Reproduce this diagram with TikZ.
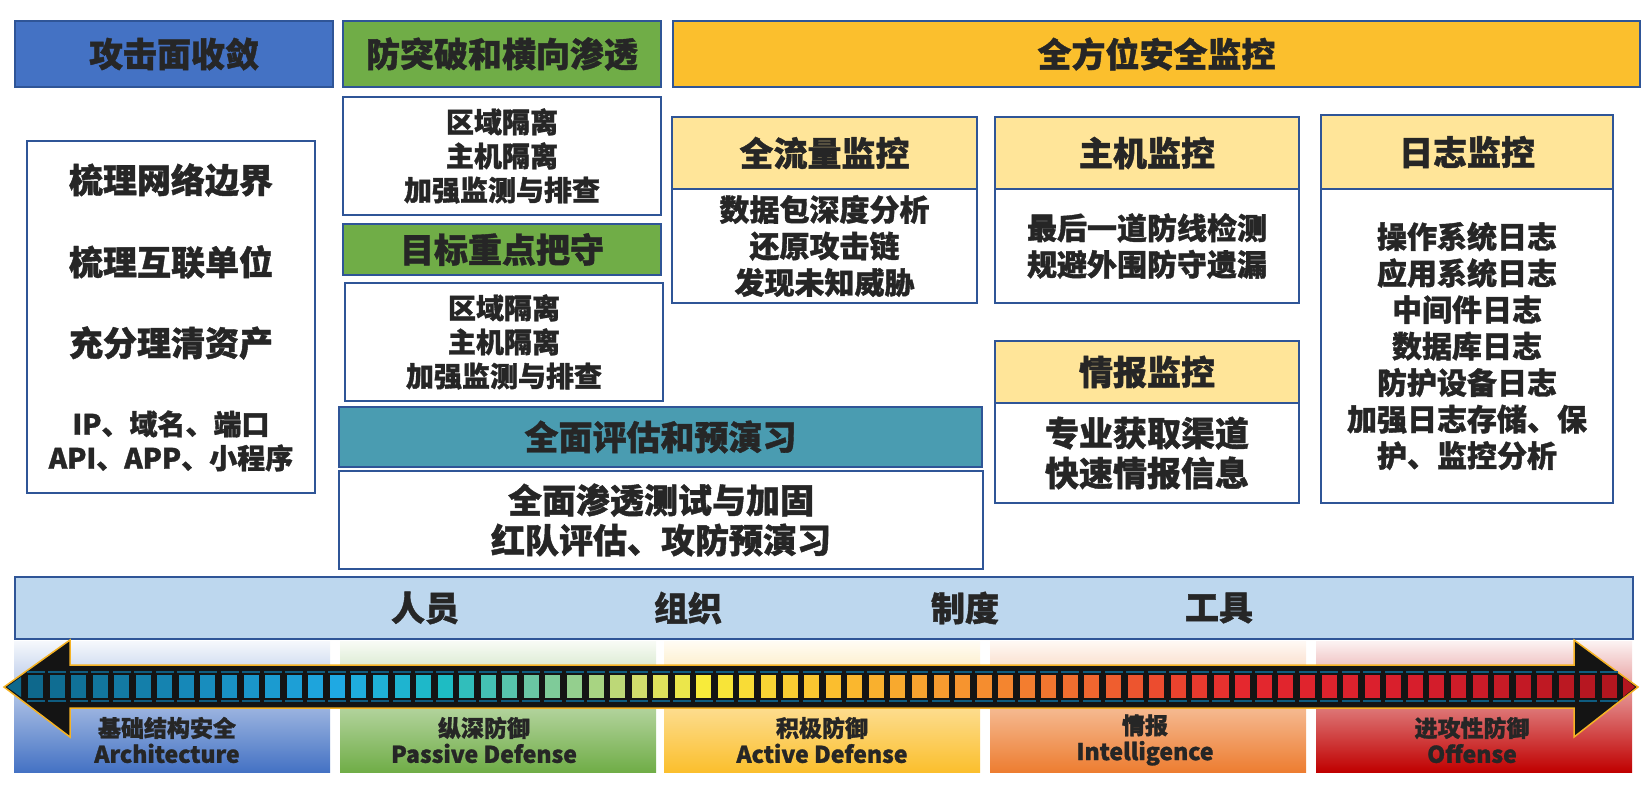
\documentclass[tikz,border=0pt]{standalone}
\usepackage{fontspec}
\setmainfont{Noto Sans CJK SC}[BoldFeatures={FakeBold=1.2}]
\usepackage{xcolor}
\usepackage{tikz}
\definecolor{lan}{HTML}{4472C4}
\definecolor{lv}{HTML}{70AD47}
\definecolor{jin}{HTML}{FBBF2D}
\definecolor{danhuang}{HTML}{FFE599}
\definecolor{qing}{HTML}{4A9CB1}
\definecolor{tianlan}{HTML}{BDD7EE}
\definecolor{bian}{HTML}{2F5597}
\definecolor{zi}{HTML}{262626}
\definecolor{cheng}{HTML}{ED7D31}
\definecolor{hong}{HTML}{C00000}
\definecolor{jiantou}{HTML}{F6B324}
\definecolor{xuxian}{HTML}{0F5C80}
% 色带
\definecolor{s0}{HTML}{0E688C}
\definecolor{s1}{HTML}{1FA9E3}
\definecolor{s2}{HTML}{1EBCC3}
\definecolor{s3}{HTML}{6AC6A4}
\definecolor{s4}{HTML}{D2DD6C}
\definecolor{s5}{HTML}{F8EB3A}
\definecolor{s6}{HTML}{FBBE2E}
\definecolor{s7}{HTML}{F58D2F}
\definecolor{s8}{HTML}{EF5E2F}
\definecolor{s9}{HTML}{E5282E}
\definecolor{s10}{HTML}{D71E2C}
\definecolor{s11}{HTML}{B3161F}

\begin{document}
\begin{tikzpicture}[x=1pt, y=-1pt,
        kuang/.style={draw=bian, line width=2pt, inner sep=0pt, align=center, text=zi},
        wen/.style={inner sep=0pt, align=center, text=zi},
        da/.style={font=\fontsize{34}{40}\selectfont\bfseries},
        zhong/.style={font=\fontsize{30}{36.5}\selectfont\bfseries},
        xiao/.style={font=\fontsize{28}{34}\selectfont\bfseries},
        dibu/.style={font=\fontsize{23}{26}\selectfont\bfseries}]
        \useasboundingbox (0,0) rectangle (1652,790);
        % 攻击面收敛
        \node[kuang, da, fill=lan, minimum width=318pt, minimum height=66pt] (gjm) at (174,54) {攻击面收敛};
        \node[kuang, minimum width=288pt, minimum height=352pt] (shuli) at (171,317) {};
        \node[wen, da] (shuli1) at (171,180) {梳理网络边界};
        \node[wen, da] (shuli2) at (171,262) {梳理互联单位};
        \node[wen, da] (shuli3) at (171,343) {充分理清资产};
        \node[wen, xiao] (shuli4) at (171,441) {IP、域名、端口\\API、APP、小程序};
        % 防突破和横向渗透
        \node[kuang, da, fill=lv, minimum width=318pt, minimum height=66pt] (ftp) at (502,54) {防突破和横向渗透};
        \node[kuang, xiao, minimum width=318pt, minimum height=118pt] (gl1) at (502,156) {区域隔离\\主机隔离\\加强监测与排查};
        \node[kuang, da, fill=lv, minimum width=318pt, minimum height=51pt] (mbz) at (502,249.5) {目标重点把守};
        \node[kuang, xiao, minimum width=318pt, minimum height=118pt] (gl2) at (504,342) {区域隔离\\主机隔离\\加强监测与排查};
        \node[kuang, da, fill=qing, minimum width=643pt, minimum height=60pt] (pgy) at (660.5,437) {全面评估和预演习};
        \node[kuang, da, minimum width=644pt, minimum height=98pt] (stc) at (661,520) {全面渗透测试与加固\\红队评估、攻防预演习};
        % 全方位安全监控
        \node[kuang, da, fill=jin, minimum width=967pt, minimum height=66pt] (qfw) at (1156.5,54) {全方位安全监控};
        \node[kuang, da, fill=danhuang, minimum width=305pt, minimum height=72pt] (llt) at (824.5,153) {全流量监控};
        \node[kuang, zhong, minimum width=305pt, minimum height=114pt] (llb) at (824.5,246) {数据包深度分析\\还原攻击链\\发现未知威胁};
        \node[kuang, da, fill=danhuang, minimum width=304pt, minimum height=72pt] (zjt) at (1147,153) {主机监控};
        \node[kuang, zhong, minimum width=304pt, minimum height=114pt] (zjb) at (1147,246) {最后一道防线检测\\规避外围防守遗漏};
        \node[kuang, da, fill=danhuang, minimum width=292pt, minimum height=74pt] (rzt) at (1467,152) {日志监控};
        \node[kuang, zhong, minimum width=292pt, minimum height=314pt] (rzb) at (1467,346) {操作系统日志\\应用系统日志\\中间件日志\\数据库日志\\防护设备日志\\加强日志存储、保\\护、监控分析};
        \node[kuang, da, fill=danhuang, minimum width=304pt, minimum height=62pt] (qbt) at (1147,372) {情报监控};
        \node[kuang, da, minimum width=304pt, minimum height=100pt] (qbb) at (1147,453) {专业获取渠道\\快速情报信息};
        % 人员 组织 制度 工具
        \node[kuang, fill=tianlan, minimum width=1618pt, minimum height=62pt] (tiao) at (824,608) {};
        \node[wen, da] (ry) at (425,608) {人员};
        \node[wen, da] (zz) at (688,608) {组织};
        \node[wen, da] (zd) at (965,608) {制度};
        \node[wen, da] (gj) at (1219,608) {工具};
        % 底部色带
        \foreach \x/\farbe in {14/lan, 340/lv, 664/jin, 990/cheng, 1316/hong}
            \shade[top color=\farbe!5, middle color=\farbe!35, bottom color=\farbe] (\x,641) rectangle +(316,131);
        % 箭头
        \draw[line width=1.5pt, draw=jiantou, fill=black!92, line join=miter]
        (4,687) -- (70,640) -- (70,665) -- (1574,665) -- (1574,640) -- (1638,687)
        -- (1574,737) -- (1574,708) -- (70,708) -- (70,737) -- cycle;
        \fill[s0] (7,687) -- (21,677) -- (21,697) -- cycle;
        \fill[s11] (1635,687) -- (1623,677) -- (1623,697) -- cycle;
        \foreach \ca/\cb/\von/\nach in {s0/s1/0/14, s1/s2/14/19, s2/s3/19/23, s3/s4/23/28, s4/s5/28/31,
                s5/s6/31/37, s6/s7/37/44, s7/s8/44/50, s8/s9/50/56, s9/s10/56/64, s10/s11/64/74}{
            \pgfmathtruncatemacro\ende{\nach-1}
            \foreach \i in {\von,...,\ende}{
                \pgfmathtruncatemacro\p{100*(\i-\von)/(\nach-\von-(\nach==74))}
                \pgfmathsetmacro\xx{28+21.56*\i}
                \fill[\cb!\p!\ca] (\xx,675) rectangle +(15,23);
                \draw[xuxian, line width=2pt] (\xx-1.5,672) -- +(18,0) (\xx-1.5,701) -- +(18,0);
            }
        }
        % 阶段
        \node[wen, dibu] (jc) at (167,740) {基础结构安全\\Architecture};
        \node[wen, dibu] (zs) at (484,740) {纵深防御\\Passive Defense};
        \node[wen, dibu] (jj) at (822,740) {积极防御\\Active Defense};
        \node[wen, dibu] (qb) at (1145,740) {情报\\Intelligence};
        \node[wen, dibu] (jg) at (1472,740) {进攻性防御\\Offense};
    \end{tikzpicture}
\end{document}
